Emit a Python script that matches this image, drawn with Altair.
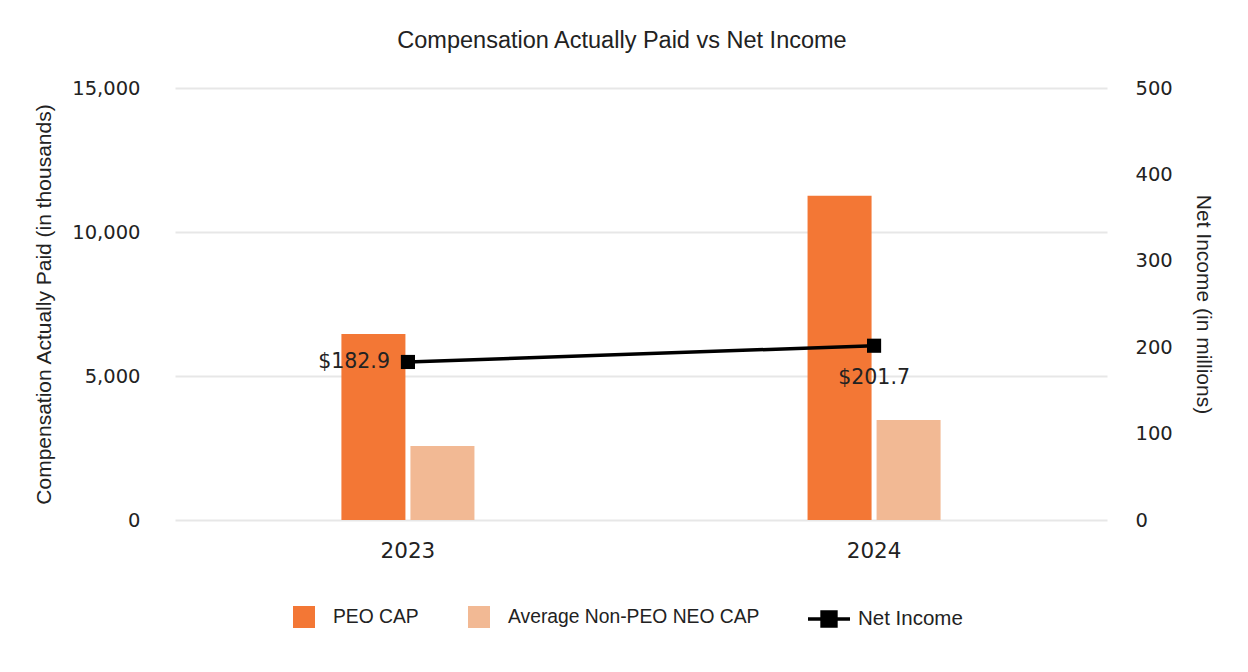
import altair as alt
import pandas as pd

years = ["2023", "2024"]
peo_cap = [6460, 11260]
avg_neo_cap = [2570, 3470]
net_income = [182.9, 201.7]
bar_series = ["PEO CAP", "Average Non-PEO NEO CAP"]
bar_colors = ["#F37735", "#F2B994"]

bars_df = pd.DataFrame({
    "year": years * 2,
    "series": [bar_series[0]] * 2 + [bar_series[1]] * 2,
    "value": peo_cap + avg_neo_cap,
})
ni_df = pd.DataFrame({
    "year": years,
    "series": ["Net Income"] * 2,
    "ni": net_income,
    "label": ["$" + format(v, ".1f") for v in net_income],
})

FONT = "Liberation Sans"
NUMFONT = "DejaVu Sans"
TXT = "#222222"

xscale = alt.Scale(paddingInner=0.7146, paddingOuter=0.357)

bars = alt.Chart(bars_df).mark_bar().encode(
    x=alt.X("year:N", scale=xscale, sort=years,
            axis=alt.Axis(title=None, labelAngle=0, ticks=False, domain=False,
                          labelFont=NUMFONT, labelFontSize=21.5, labelPadding=20, labelColor=TXT)),
    xOffset=alt.XOffset("series:N", sort=bar_series,
                        scale=alt.Scale(paddingInner=0.0725, paddingOuter=0)),
    y=alt.Y("value:Q", scale=alt.Scale(domain=[0, 15000]),
            axis=alt.Axis(title="Compensation Actually Paid (in thousands)", values=[0, 5000, 10000, 15000],
                          format=",.0f", ticks=False, domain=False, labelFont=NUMFONT, labelFontSize=19.5,
                          labelPadding=35, titleFontSize=21, titleFontWeight="normal", titlePadding=17,
                          gridColor="#e7e7e7", gridWidth=2, labelColor=TXT, titleColor=TXT)),
    fill=alt.Fill("series:N", sort=bar_series,
                  scale=alt.Scale(domain=bar_series, range=bar_colors),
                  legend=alt.Legend(title=None, orient="none", legendX=118, legendY=518,
                                    direction="horizontal",
                                    symbolType="square", symbolSize=484, symbolStrokeWidth=0,
                                    labelFontSize=19.3, labelLimit=400, columnPadding=49, labelOffset=18,
                                    labelColor=TXT)),
)

yr = alt.Y("ni:Q", scale=alt.Scale(domain=[0, 500]),
           axis=alt.Axis(title="Net Income (in millions)", orient="right", values=[0, 100, 200, 300, 400, 500],
                         ticks=False, domain=False, grid=False, labelFont=NUMFONT, labelFontSize=19.5,
                         labelPadding=28, titleFontSize=21, titleFontWeight="normal", titleAngle=90,
                         titlePadding=20, labelColor=TXT, titleColor=TXT))
xl = alt.X("year:N", sort=years)

line = alt.Chart(ni_df).mark_line(color="black", strokeWidth=3.5).encode(
    x=xl,
    y=yr,
    stroke=alt.Stroke("series:N", scale=alt.Scale(domain=["Net Income"], range=["black"]),
                      legend=alt.Legend(title=None, orient="none", legendX=631, legendY=508,
                                        symbolType="M-1,0L1,0M-0.33,-0.33L0.33,-0.33L0.33,0.33L-0.33,0.33Z",
                                        symbolSize=1764, symbolStrokeWidth=3.5, symbolFillColor="black",
                                        symbolStrokeColor="black", labelLimit=400,
                                        labelFontSize=20.5, labelOffset=6, labelColor=TXT)),
)
points = alt.Chart(ni_df).mark_point(shape="square", filled=True, color="black", size=200, opacity=1).encode(
    x=xl, y=yr,
)
t1 = alt.Chart(ni_df).transform_filter(alt.datum.year == "2023").mark_text(
    align="right", baseline="middle", dx=-18, fontSize=20.5, color=TXT, font=NUMFONT
).encode(x=xl, y=yr, text="label:N")
t2 = alt.Chart(ni_df).transform_filter(alt.datum.year == "2024").mark_text(
    align="center", baseline="middle", dy=32, fontSize=20.5, color=TXT, font=NUMFONT
).encode(x=xl, y=yr, text="label:N")

right = alt.layer(line, points, t1, t2)

chart = alt.layer(bars, right).resolve_scale(
    y="independent"
).properties(
    width=932, height=432,
    title=alt.TitleParams("Compensation Actually Paid vs Net Income", fontSize=23.5,
                          fontWeight="normal", anchor="middle", offset=26, dx=-19, color=TXT),
    autosize=alt.AutoSizeParams(type="none"),
    padding={"left": 167, "top": 80, "right": 133, "bottom": 144},
).configure(font=FONT).configure_view(stroke=None)

chart.save("out.html", embed_options={"renderer": "svg", "actions": False})
